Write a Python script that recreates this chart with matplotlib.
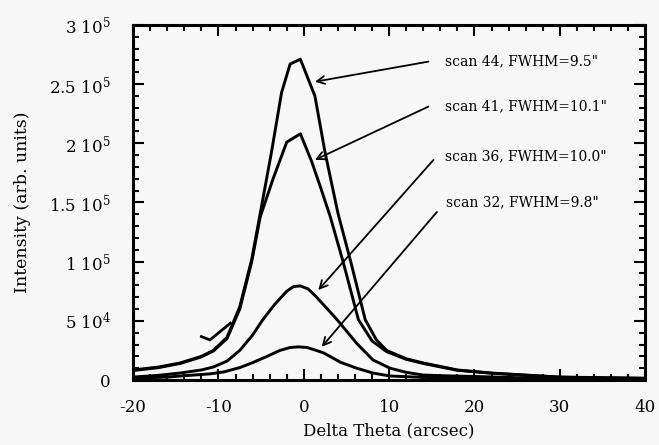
import numpy as np
import matplotlib
matplotlib.use("Agg")
import matplotlib.pyplot as plt
from matplotlib.ticker import MultipleLocator

# data (Delta Theta in arcsec, intensity arb. units)
x44 = [-20, -17, -14.5, -12, -10.6, -9, -7.5, -6.1, -5.1, -3.8, -2.6, -1.6, -0.4,
       1.3, 2.5, 4.0, 5.5, 7.2, 8.5, 9.7, 12, 14, 18, 22, 30, 40]
y44 = [8.5e3, 1.1e4, 1.44e4, 2.0e4, 2.5e4, 3.6e4, 6.2e4, 1.02e5, 1.41e5, 1.92e5, 2.43e5,
       2.67e5, 2.71e5, 2.40e5, 1.92e5, 1.41e5, 1.0e5, 5.1e4, 3.4e4, 2.5e4, 1.8e4, 1.44e4,
       8.5e3, 5.9e3, 2.5e3, 1.5e3]

x41 = [-20, -17, -14.5, -12, -10.6, -9, -7.5, -6.1, -5.1, -3.6, -2.0, -0.4,
       0.9, 2.0, 3.1, 4.6, 6.4, 8.0, 9.7, 12, 14, 18, 22, 30, 40]
y41 = [8.0e3, 1.05e4, 1.4e4, 1.95e4, 2.45e4, 3.5e4, 6.0e4, 1.0e5, 1.38e5, 1.70e5, 2.01e5,
       2.08e5, 1.85e5, 1.62e5, 1.38e5, 1.0e5, 5.1e4, 3.3e4, 2.4e4, 1.75e4, 1.4e4,
       8.2e3, 5.7e3, 2.4e3, 1.4e3]

x36 = [-20, -17, -14.5, -12, -10.6, -9, -7.5, -6, -4.8, -3.4, -2.0, -1.2, -0.4, 0.5,
       1.5, 3.9, 6.2, 8.1, 10.1, 12, 14, 17, 20, 25, 30, 40]
y36 = [2.5e3, 4e3, 5.9e3, 8.5e3, 1.1e4, 1.6e4, 2.5e4, 3.8e4, 5.1e4, 6.4e4, 7.5e4, 7.9e4,
       7.95e4, 7.7e4, 7.0e4, 5.1e4, 3.1e4, 1.7e4, 1.0e4, 6.5e3, 4.2e3, 3.5e3, 3e3, 2e3,
       1.5e3, 1e3]

x32 = [-20, -16, -13.3, -11, -9.4, -7.5, -5.9, -4.3, -2.8, -1.6, -0.6, 0.4, 2.3, 4.3,
       6.2, 8.1, 10.1, 14, 20, 30, 40]
y32 = [1.5e3, 2.5e3, 4e3, 5.2e3, 6.8e3, 1.05e4, 1.5e4, 2.0e4, 2.5e4, 2.75e4, 2.8e4, 2.75e4,
       2.3e4, 1.5e4, 1.0e4, 5.9e3, 3.4e3, 2.2e3, 1.5e3, 1e3, 8e2]

# little stray mark in the scan near the left flank
x_hook = [-12.0, -11.0, -8.6]
y_hook = [3.67e4, 3.39e4, 4.8e4]

labels = ['scan 44, FWHM=9.5"', 'scan 41, FWHM=10.1"',
          'scan 36, FWHM=10.0"', 'scan 32, FWHM=9.8"']
label_xy = [(16.5, 2.69e5), (16.5, 2.31e5), (16.6, 1.89e5), (16.7, 1.50e5)]
tail_xy = [(14.6, 2.69e5), (14.6, 2.31e5), (15.2, 1.86e5), (15.6, 1.42e5)]
head_xy = [(1.3, 2.52e5), (1.3, 1.86e5), (1.7, 7.6e4), (2.1, 2.8e4)]

yticks = [0, 5e4, 1e5, 1.5e5, 2e5, 2.5e5, 3e5]
ytick_labels = ['0', '5 10$^4$', '1 10$^5$', '1.5 10$^5$', '2 10$^5$',
                '2.5 10$^5$', '3 10$^5$']
xticks = [-20, -10, 0, 10, 20, 30, 40]

plt.rcParams['font.family'] = ['DejaVu Serif']
plt.rcParams['mathtext.fontset'] = 'dejavuserif'
plt.rcParams['axes.unicode_minus'] = False

fig = plt.figure(figsize=(6.59, 4.45), dpi=100, facecolor='#f7f7f7')
ax = fig.add_axes([0.202, 0.146, 0.777, 0.798], facecolor='#f7f7f7')

for xs, ys in [(x44, y44), (x41, y41), (x36, y36), (x32, y32)]:
    ax.plot(xs, ys, color='black', lw=2.1, solid_joinstyle='round')
ax.plot(x_hook, y_hook, color='black', lw=2.0)

for lab, lxy, txy, hxy in zip(labels, label_xy, tail_xy, head_xy):
    ax.text(lxy[0], lxy[1], lab, fontsize=10, va='center', ha='left')
    ax.annotate('', xy=hxy, xytext=txy,
                arrowprops=dict(arrowstyle='->', lw=1.3, color='black',
                                shrinkA=0, shrinkB=0, mutation_scale=14))

ax.set_xlim(-20, 40)
ax.set_ylim(0, 3e5)
ax.set_xticks(xticks)
ax.set_yticks(yticks)
ax.set_yticklabels(ytick_labels)
ax.xaxis.set_minor_locator(MultipleLocator(2))
ax.yaxis.set_minor_locator(MultipleLocator(1e4))
ax.tick_params(which='both', direction='in', top=True, right=True,
               labelsize=12, width=1.5, color='black')
ax.tick_params(which='major', length=8)
ax.tick_params(axis='x', which='major', pad=14)
ax.tick_params(axis='y', which='major', pad=16)
ax.tick_params(which='minor', length=4)
for sp in ax.spines.values():
    sp.set_linewidth(2.2)

ax.set_xlabel('Delta Theta (arcsec)', fontsize=12, labelpad=4)
ax.set_ylabel('Intensity (arb. units)', fontsize=12.5)
ax.yaxis.set_label_coords(-0.2, 0.5)

fig.savefig('out.png', dpi=100, facecolor=fig.get_facecolor())
